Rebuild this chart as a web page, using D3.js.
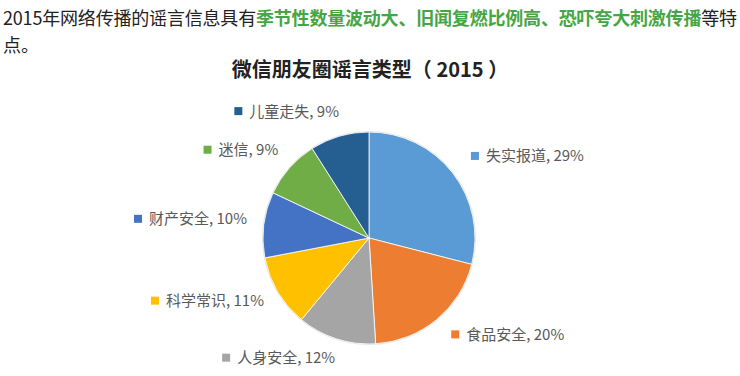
<!DOCTYPE html>
<meta charset="utf-8">
<style>
body { margin: 0; background: #fff; }
svg { font-family: "Noto Sans CJK SC", "Noto Sans", sans-serif; }
.lbl { font-size: 15px; fill: #595959; }
</style>
<svg width="740" height="376"></svg>
<script src="https://cdn.jsdelivr.net/npm/d3@7"></script>
<script>

var categories = ["失实报道", "食品安全", "人身安全", "科学常识", "财产安全", "迷信", "儿童走失"];
var values = [29, 20, 12, 11, 10, 9, 9];
var colors = ["#5b9bd5", "#ed7d31", "#a5a5a5", "#ffc000", "#4472c4", "#70ad47", "#255e91"];

var svg = d3.select("svg"),
    width = +svg.attr("width"),
    height = +svg.attr("height");

// header paragraph
var head = svg.append("text")
    .attr("x", 3).attr("y", 25)
    .attr("font-size", 18)
    .attr("fill", "#222")
    .attr("textLength", 734)
    .attr("lengthAdjust", "spacing");
head.append("tspan").text("2015年网络传播的谣言信息具有");
head.append("tspan").attr("fill", "#46a546").attr("font-weight", "bold")
    .text("季节性数量波动大、旧闻复燃比例高、恐吓夸大刺激传播");
head.append("tspan").text("等特");
svg.append("text")
    .attr("x", 3).attr("y", 52)
    .attr("font-size", 18)
    .attr("fill", "#222")
    .text("点。");

// chart title
svg.append("text")
    .attr("x", 370).attr("y", 77)
    .attr("text-anchor", "middle")
    .attr("font-size", 20)
    .attr("font-weight", "bold")
    .attr("fill", "#222")
    .text("微信朋友圈谣言类型（ 2015 ）");

var cx = 369, cy = 238, r = 106;

var pie = d3.pie().sort(null).value(function(d) { return d; });
var arcs = pie(values);
var arc = d3.arc().innerRadius(0).outerRadius(r);
var labelArc = d3.arc().innerRadius(129).outerRadius(129);

var g = svg.append("g").attr("transform", "translate(" + cx + "," + cy + ")");

g.selectAll("path")
    .data(arcs)
    .enter().append("path")
    .attr("d", arc)
    .attr("fill", function(d, i) { return colors[i]; })
    .attr("stroke", "#fff")
    .attr("stroke-width", 0.8);

g.append("circle").attr("r", r + 0.5)
    .attr("fill", "none").attr("stroke", "#e8e8e8").attr("stroke-width", 1);

var labels = g.selectAll("g.label")
    .data(arcs)
    .enter().append("g")
    .attr("class", "label")
    .attr("transform", function(d) {
        var c = labelArc.centroid(d);
        return "translate(" + c[0] + "," + (c[1] - 3) + ")";
    });

labels.each(function(d, i) {
    var sel = d3.select(this);
    var mid = (d.startAngle + d.endAngle) / 2;
    var right = mid < Math.PI;
    var t = sel.append("text")
        .attr("class", "lbl")
        .attr("dy", "0.36em")
        .text(categories[i] + ", " + values[i] + "%");
    var w = t.node().getComputedTextLength();
    var x0 = right ? 0 : -(w + 9);
    sel.append("rect")
        .attr("x", x0).attr("y", -4)
        .attr("width", 8).attr("height", 8)
        .attr("fill", colors[i]);
    t.attr("x", x0 + 15);
});
</script>
